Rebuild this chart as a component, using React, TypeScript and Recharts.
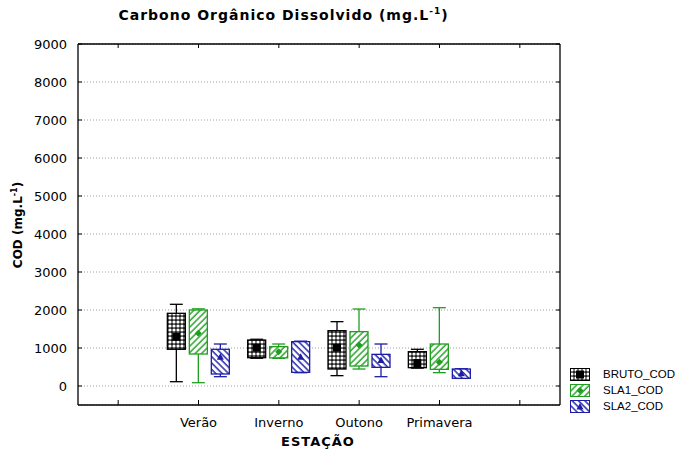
import React from "react";
import { ComposedChart, Bar, XAxis, YAxis, CartesianGrid } from "recharts";

// categories (first and last slot are empty on the original axis)
const seasons = ["", "Verão", "Inverno", "Outono", "Primavera", ""];
const yTicks = [0, 1000, 2000, 3000, 4000, 5000, 6000, 7000, 8000, 9000];

// box stats per season: [min, q1, median, q3, max]
const bruto = [null, [113, 966, 1297, 1913, 2150], [730, 745, 1008, 1210, 1230], [272, 447, 1008, 1456, 1693], [470, 482, 605, 903, 966], null];
const sla1 = [null, [87, 842, 1386, 2000, 2030], [728, 740, 903, 1035, 1105], [447, 526, 1079, 1430, 2026], [351, 438, 623, 1105, 2061], null];
const sla2 = [null, [245, 316, 772, 966, 1105], [350, 360, 772, 1167, 1180], [245, 491, 684, 833, 1105], [200, 202, 333, 447, 455], null];

const seriesNames = ["BRUTO_COD", "SLA1_COD", "SLA2_COD"];

const data = seasons.map((s, i) => ({ season: s, bruto: bruto[i], sla1: sla1[i], sla2: sla2[i] }));

const GREEN = "#1e9e1e";
const BLUE = "#1c1ca6";

const series = [
  { key: "bruto", name: seriesNames[0], color: "#000", fill: "url(#patBruto)", marker: "square" },
  { key: "sla1", name: seriesNames[1], color: GREEN, fill: "url(#patSla1)", marker: "diamond" },
  { key: "sla2", name: seriesNames[2], color: BLUE, fill: "url(#patSla2)", marker: "triangle" },
];

const Marker = ({ cx, cy, type, color }: any) => {
  if (type === "square") return <rect x={cx - 4} y={cy - 4} width={8} height={8} fill="#000" />;
  if (type === "diamond")
    return <path d={`M${cx},${cy - 3.5}L${cx + 3.5},${cy}L${cx},${cy + 3.5}L${cx - 3.5},${cy}Z`} fill={color} />;
  return <path d={`M${cx},${cy - 3.5}L${cx + 3.5},${cy + 3}L${cx - 3.5},${cy + 3}Z`} fill={color} />;
};

// the bar spans [min, max]; other stats are placed on the same pixel scale
const BoxShape = (props: any) => {
  const { x, y, width, height, stats, color, fill, marker } = props;
  if (!stats) return null;
  const [mn, q1, md, q3, mx] = stats;
  const top = height >= 0 ? y : y + height;
  const h = Math.abs(height);
  const py = (v: number) => top + ((mx - v) / (mx - mn)) * h;
  const cx = x + width / 2;
  const cap = width * 0.36;
  return (
    <g>
      <line x1={cx} x2={cx} y1={py(mx)} y2={py(q3)} stroke={color} strokeWidth={1.3} />
      <line x1={cx} x2={cx} y1={py(q1)} y2={py(mn)} stroke={color} strokeWidth={1.3} />
      <line x1={cx - cap} x2={cx + cap} y1={py(mx)} y2={py(mx)} stroke={color} strokeWidth={1.3} />
      <line x1={cx - cap} x2={cx + cap} y1={py(mn)} y2={py(mn)} stroke={color} strokeWidth={1.3} />
      <rect x={x} y={py(q3)} width={width} height={Math.max(py(q1) - py(q3), 1)} fill={fill} stroke={color} strokeWidth={1.3} />
      <Marker cx={cx} cy={py(md)} type={marker} color={color} />
    </g>
  );
};

const BottomTick = (props: any) => {
  const { x, y, payload } = props;
  return (
    <g>
      <line x1={x} x2={x} y1={y} y2={y - 5} stroke="#000" />
      <text x={x} y={y + 22} textAnchor="middle" fontSize={13} fontFamily="DejaVu Sans" fill="#000">
        {payload.value}
      </text>
    </g>
  );
};

const TopTick = (props: any) => {
  const { x, y } = props;
  return <line x1={x} x2={x} y1={y} y2={y + 4} stroke="#000" />;
};

const LeftTick = (props: any) => {
  const { x, y, payload } = props;
  return (
    <g>
      <line x1={x} x2={x + 4} y1={y} y2={y} stroke="#000" />
      <text x={x - 11} y={y + 5} textAnchor="end" fontSize={13} fontFamily="DejaVu Sans" fill="#000">
        {payload.value}
      </text>
    </g>
  );
};

const RightTick = (props: any) => {
  const { x, y } = props;
  return <line x1={x} x2={x - 4} y1={y} y2={y} stroke="#000" />;
};

const LegendBox = () => (
  <div style={{ position: "absolute", left: 570, top: 366, fontFamily: "Liberation Sans", fontSize: 11.5, color: "#000" }}>
    {series.map((s) => (
      <div key={s.key} style={{ display: "flex", alignItems: "center", height: 16 }}>
        <svg width={20} height={13} style={{ marginRight: 13 }}>
          <rect x={0.5} y={0.5} width={19} height={12} fill={s.fill} stroke={s.color} />
          <Marker cx={10} cy={6.5} type={s.marker} color={s.color} />
        </svg>
        <span>{s.name}</span>
      </div>
    ))}
  </div>
);

export default function App() {
  return (
    <div style={{ position: "absolute", left: 0, top: 0, width: 694, height: 453, background: "#fff" }}>
      <svg width={0} height={0} style={{ position: "absolute" }}>
        <defs>
          <pattern id="patBruto" patternUnits="userSpaceOnUse" width={4} height={4}>
            <rect width={4} height={4} fill="#222" />
            <circle cx={2} cy={2} r={1.6} fill="#fff" />
          </pattern>
          <pattern id="patSla1" patternUnits="userSpaceOnUse" width={4.5} height={4.5} patternTransform="rotate(45)">
            <rect width={4.5} height={4.5} fill="#fff" />
            <line x1={1} x2={1} y1={0} y2={4.5} stroke={GREEN} strokeWidth={1.4} />
          </pattern>
          <pattern id="patSla2" patternUnits="userSpaceOnUse" width={4.5} height={4.5} patternTransform="rotate(-45)">
            <rect width={4.5} height={4.5} fill="#fff" />
            <line x1={1} x2={1} y1={0} y2={4.5} stroke={BLUE} strokeWidth={1.4} />
          </pattern>
        </defs>
      </svg>

      <div
        style={{
          position: "absolute", left: 0, width: 567, top: 6, textAlign: "center",
          fontFamily: "DejaVu Sans", fontWeight: "bold", fontSize: 14, letterSpacing: 1,
        }}
      >
        Carbono Orgânico Dissolvido (mg.L<sup style={{ fontSize: 9 }}>-1</sup>)
      </div>

      <div
        style={{
          position: "absolute", left: 17, top: 225, transform: "translate(-50%, -50%) rotate(-90deg)",
          whiteSpace: "nowrap", fontFamily: "DejaVu Sans", fontWeight: "bold", fontSize: 12,
        }}
      >
        COD (mg.L<sup style={{ fontSize: 8 }}>-1</sup>)
      </div>

      <div
        style={{
          position: "absolute", left: 318, top: 434, transform: "translateX(-50%)",
          fontFamily: "DejaVu Sans", fontWeight: "bold", fontSize: 13, letterSpacing: 1,
        }}
      >
        ESTAÇÃO
      </div>

      <ComposedChart
        width={694}
        height={453}
        data={data}
        margin={{ top: 43, right: 133, bottom: 18, left: 0 }}
        barSize={18}
        barGap={4}
      >
        <CartesianGrid horizontal vertical={false} stroke="#a0a0a0" strokeDasharray="1 2" />
        <XAxis dataKey="season" height={30} tickSize={0} tickMargin={0} tick={<BottomTick />} interval={0} axisLine={{ stroke: "#000", strokeWidth: 1.3 }} tickLine={false} />
        <XAxis xAxisId="top" dataKey="season" orientation="top" height={1} tickSize={0} tickMargin={0} tick={<TopTick />} interval={0} axisLine={{ stroke: "#000", strokeWidth: 1.3 }} tickLine={false} />
        <YAxis domain={[-500, 9000]} ticks={yTicks} width={78} tickSize={0} tickMargin={0} tick={<LeftTick />} axisLine={{ stroke: "#000", strokeWidth: 1.3 }} tickLine={false} allowDataOverflow />
        <YAxis yAxisId="r" orientation="right" domain={[-500, 9000]} ticks={yTicks} width={1} tickSize={0} tickMargin={0} tick={<RightTick />} axisLine={{ stroke: "#000", strokeWidth: 1.3 }} tickLine={false} allowDataOverflow />
        {series.map((s) => (
          <Bar
            key={s.key}
            name={s.name}
            dataKey={(d: any) => (d[s.key] ? [d[s.key][0], d[s.key][4]] : null)}
            isAnimationActive={false}
            shape={(p: any) => <BoxShape {...p} stats={p.payload[s.key]} color={s.color} fill={s.fill} marker={s.marker} />}
          />
        ))}
      </ComposedChart>
      <LegendBox />
    </div>
  );
}
